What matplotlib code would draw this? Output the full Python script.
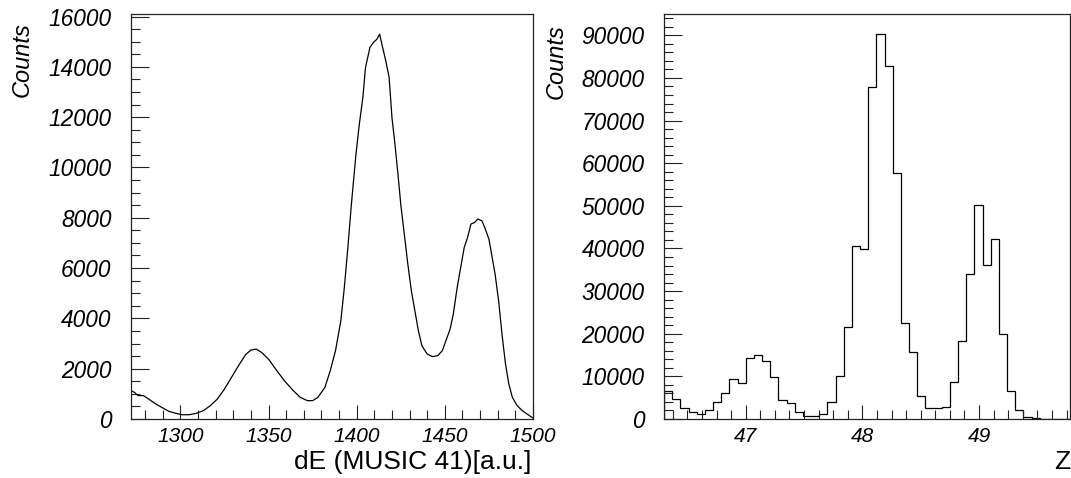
import numpy as np
import matplotlib
matplotlib.use("Agg")
import matplotlib.pyplot as plt
from matplotlib.ticker import MultipleLocator

plt.rcParams['font.family'] = ['Liberation Sans', 'DejaVu Sans']

# linkes Spektrum: dE (MUSIC 41)
de_x = [1272, 1274, 1276, 1279, 1282, 1286, 1290, 1293.5, 1297.4, 1301, 1305, 1309,
        1313, 1317, 1321, 1325, 1329, 1333, 1337, 1340, 1343, 1346, 1350, 1354,
        1359, 1364, 1368, 1372, 1375, 1378, 1382, 1385, 1388, 1391, 1393, 1395,
        1397, 1399.6, 1401.5, 1403.5, 1405, 1407.5, 1409.5, 1411.5, 1413, 1414.5,
        1416.5, 1418.4, 1420, 1421.7, 1423.4, 1425, 1427, 1429, 1431, 1433, 1435,
        1437, 1440, 1443, 1446, 1448.6, 1450.6, 1453, 1454.8, 1457, 1459, 1461,
        1462.9, 1464.8, 1466.8, 1468.7, 1471, 1472.6, 1475, 1476.5, 1478.5, 1480.5,
        1482.4, 1484.4, 1486.3, 1488.3, 1491, 1494, 1498, 1500]
de_counts = [1126, 1060, 930, 930, 795, 600, 440, 305, 225, 170, 170, 225,
             330, 530, 795, 1190, 1655, 2120, 2560, 2740, 2780, 2650, 2380, 1990,
             1520, 1130, 860, 730, 730, 860, 1260, 1920, 2720, 3900, 5230, 6820,
             8540, 10530, 11720, 12780, 13970, 14770, 14970, 15100, 15300, 14830,
             14240, 13580, 11990, 10930, 9740, 8540, 7350, 6160, 5100, 4300, 3510,
             2910, 2580, 2480, 2520, 2720, 3110, 3580, 4170, 5230, 6030, 6820,
             7220, 7750, 7810, 7950, 7880, 7620, 7150, 6560, 5760, 4700,
             3380, 2190, 1390, 860, 530, 330, 130, 40]

# rechtes Spektrum: Z
z_start = 46.3
z_width = 0.07
z_counts = [6600, 4600, 2600, 1700, 1100, 2200, 3900, 6200, 9300, 8400,
            14400, 15000, 13500, 9800, 4400, 3700, 1700, 800, 800, 1100,
            3900, 10000, 21600, 40600, 39800, 77900, 90400, 82700, 57600, 22500,
            15800, 5500, 2500, 2500, 2900, 8700, 18300, 34000, 50100, 36100,
            42200, 19900, 6600, 2100, 500, 200, 100, 0, 0, 0]

W, H = 1071, 478
fig = plt.figure(figsize=(W / 100, H / 100), dpi=100)

def box(l, r, t, b):
    return [l / W, 1 - b / H, (r - l) / W, (b - t) / H]

ax1 = fig.add_axes(box(131, 533, 14, 419))
ax2 = fig.add_axes(box(664, 1070, 14, 419))

ax1.plot(de_x, de_counts, color='black', lw=0.9)
ax1.set_xlim(1272, 1500)
ax1.set_ylim(0, 16100)
ax1.xaxis.set_major_locator(MultipleLocator(50))
ax1.xaxis.set_minor_locator(MultipleLocator(10))
ax1.yaxis.set_major_locator(MultipleLocator(2000))
ax1.yaxis.set_minor_locator(MultipleLocator(500))

edges = z_start + z_width * np.arange(len(z_counts) + 1)
ax2.stairs(z_counts, edges, color='black', lw=0.9)
ax2.set_xlim(46.3, 49.78)
ax2.set_ylim(0, 95000)
ax2.xaxis.set_major_locator(MultipleLocator(1))
ax2.xaxis.set_minor_locator(MultipleLocator(0.125))
ax2.yaxis.set_major_locator(MultipleLocator(10000))
ax2.yaxis.set_minor_locator(MultipleLocator(2000))

for ax in (ax1, ax2):
    for s in ax.spines.values():
        s.set_linewidth(0.9)
        s.set_color('#222222')
    ax.tick_params(which='both', direction='in', top=False, right=False,
                   width=0.8, colors='#222222')
    ax.tick_params(which='major', length=13)
    ax.tick_params(which='minor', length=6.5)
    ax.tick_params(axis='x', which='major', length=10, pad=6, labelsize=15)
    ax.tick_params(axis='y', which='major', pad=14, labelsize=16.3)
    for lab in ax.get_xticklabels() + ax.get_yticklabels():
        lab.set_fontstyle('italic')
        lab.set_color('black')

fig.text(22 / W, 1 - 22 / H, 'Counts', rotation=90, ha='center', va='top',
         fontsize=17, style='italic')
fig.text(556 / W, 1 - 24 / H, 'Counts', rotation=90, ha='center', va='top',
         fontsize=17, style='italic')
fig.text(531 / W, 1 - 469 / H, 'dE (MUSIC 41)[a.u.]', ha='right', va='baseline',
         fontsize=19)
fig.text(1070 / W, 1 - 469 / H, 'Z', ha='right', va='baseline', fontsize=19)

fig.savefig('out.png', dpi=100)
